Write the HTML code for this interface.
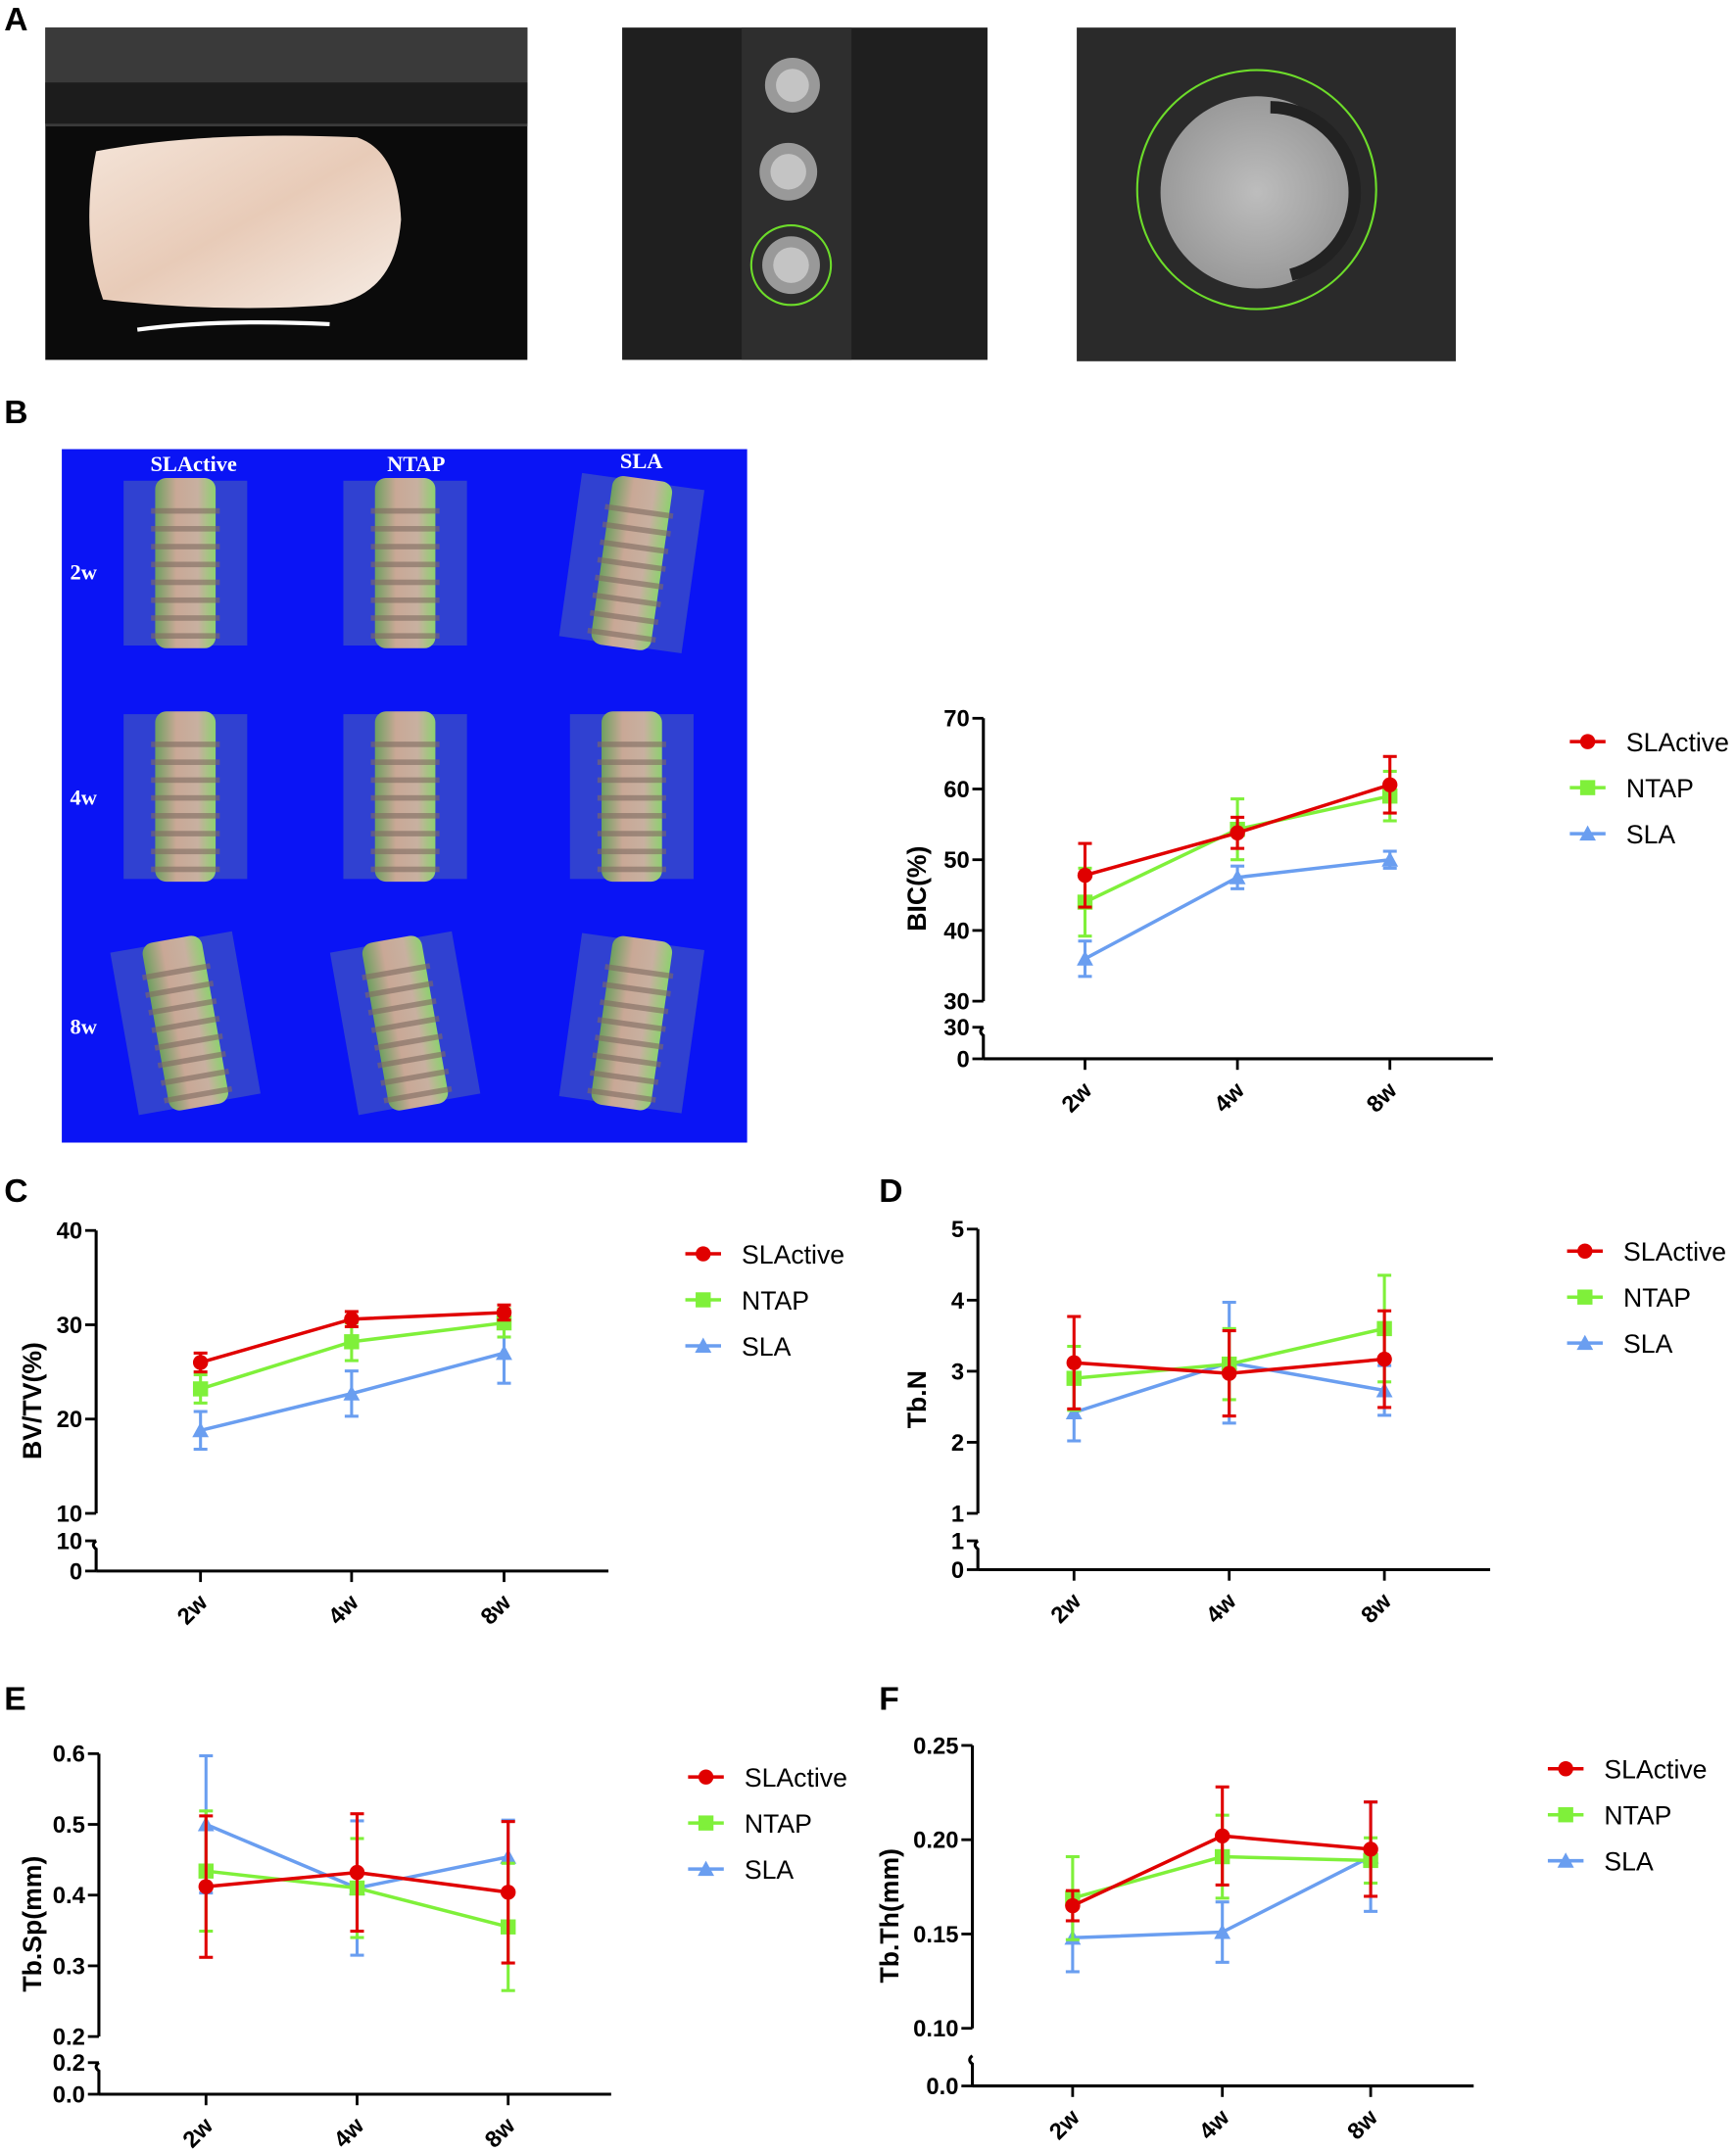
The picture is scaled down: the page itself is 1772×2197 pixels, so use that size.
<!DOCTYPE html>
<html><head><meta charset="utf-8"><style>
html,body{margin:0;padding:0;background:#fff}
svg{display:block}
text{font-family:"Liberation Sans",Arial,sans-serif}
</style></head><body>
<svg id="fig" width="1772" height="2197" viewBox="0 0 1264 1567" xmlns="http://www.w3.org/2000/svg">
<defs>
<linearGradient id="tissue" x1="0" y1="0" x2="1" y2="1"><stop offset="0" stop-color="#f4e4d8"/><stop offset="0.5" stop-color="#e8cbb8"/><stop offset="1" stop-color="#f6ece4"/></linearGradient>
<radialGradient id="ct" cx="0.5" cy="0.5" r="0.5"><stop offset="0" stop-color="#bdbdbd"/><stop offset="1" stop-color="#9a9a9a"/></radialGradient>
<linearGradient id="impl" x1="0" y1="0" x2="1" y2="0"><stop offset="0" stop-color="#6fa060"/><stop offset="0.35" stop-color="#c9a896"/><stop offset="0.7" stop-color="#c8b0a0"/><stop offset="1" stop-color="#8fd070"/></linearGradient>
</defs>
<g>
<text x="3" y="22" font-size="24" font-weight="bold">A</text>
<rect x="33" y="20" width="351" height="242" fill="#0b0b0b"/>
<rect x="33" y="20" width="351" height="72" fill="#3a3a3a"/>
<rect x="33" y="60" width="351" height="30" fill="#1c1c1c"/>
<path d="M70 110 Q150 95 260 100 Q290 110 292 160 Q288 215 240 222 Q160 228 75 218 Q58 170 70 110Z" fill="url(#tissue)"/>
<path d="M100 240 Q160 232 240 236" stroke="#fff" stroke-width="3" fill="none"/>
<rect x="453" y="20" width="266" height="242" fill="#1f1f1f"/>
<rect x="540" y="20" width="80" height="242" fill="#2e2e2e"/>
<circle cx="577" cy="62" r="20" fill="#999"/><circle cx="577" cy="62" r="12" fill="#c4c4c4"/>
<circle cx="574" cy="125" r="21" fill="#999"/><circle cx="574" cy="125" r="13" fill="#c4c4c4"/>
<circle cx="576" cy="193" r="21" fill="#999"/><circle cx="576" cy="193" r="13" fill="#c4c4c4"/>
<circle cx="576" cy="193" r="29" fill="none" stroke="#6ddc2a" stroke-width="1.5"/>
<rect x="784" y="20" width="276" height="243" fill="#2a2a2a"/>
<circle cx="915" cy="140" r="70" fill="url(#ct)"/>
<path d="M925 78 A62 62 0 0 1 940 200" stroke="#222" stroke-width="9" fill="none"/>
<circle cx="915" cy="138" r="87" fill="none" stroke="#6ddc2a" stroke-width="1.5"/>
</g>
<g>
<text x="3" y="308" font-size="24" font-weight="bold">B</text>
<rect x="45" y="327" width="499" height="505" fill="#0a14f5"/>
<g font-weight="bold" font-size="16" fill="#fff" style="font-family:'Liberation Serif',serif">
<text x="141" y="343" text-anchor="middle" style="font-family:'Liberation Serif',serif">SLActive</text>
<text x="303" y="343" text-anchor="middle" style="font-family:'Liberation Serif',serif">NTAP</text>
<text x="467" y="341" text-anchor="middle" style="font-family:'Liberation Serif',serif">SLA</text>
<text x="51" y="422" style="font-family:'Liberation Serif',serif">2w</text><text x="51" y="586" style="font-family:'Liberation Serif',serif">4w</text><text x="51" y="753" style="font-family:'Liberation Serif',serif">8w</text>
</g>
<g id="implants"></g>
</g>
<g id="charts"></g>
<g font-size="24" font-weight="bold">
<text x="3" y="875">C</text>
<text x="640" y="875">D</text>
<text x="3" y="1245">E</text>
<text x="640" y="1245">F</text>
</g>
</svg>
<script>
const categories = ["2w","4w","8w"];
const seriesNames = ["SLActive","NTAP","SLA"];
const bicMean = [[47.8,53.8,60.6],[44,54.3,59],[36,47.5,50]];
const bicErr = [[4.5,2.2,4],[4.8,4.3,3.5],[2.5,1.6,1.2]];
const bvMean = [[26,30.6,31.3],[23.2,28.2,30.2],[18.8,22.7,27]];
const bvErr = [[1,0.8,0.8],[1.5,2,1.5],[2,2.4,3.2]];
const tbnMean = [[3.12,2.97,3.17],[2.9,3.1,3.6],[2.42,3.12,2.73]];
const tbnErr = [[0.65,0.6,0.68],[0.45,0.5,0.75],[0.4,0.85,0.35]];
const tbspMean = [[0.412,0.432,0.404],[0.434,0.41,0.355],[0.5,0.41,0.454]];
const tbspErr = [[0.1,0.083,0.1],[0.085,0.07,0.09],[0.097,0.095,0.052]];
const tbthMean = [[0.165,0.202,0.195],[0.169,0.191,0.189],[0.148,0.151,0.191]];
const tbthErr = [[0.008,0.026,0.025],[0.022,0.022,0.012],[0.018,0.016,0.029]];
const bicTicks = [30,40,50,60,70];
const bvTicks = [10,20,30,40];
const tbnTicks = [1,2,3,4,5];
const tbspTicks = [0.2,0.3,0.4,0.5,0.6];
const tbthTicks = [0.10,0.15,0.20,0.25];

const NS="http://www.w3.org/2000/svg";
const colors=["#e00000","#7ff03a","#6a9ef0"];
function mk(tag,attrs,parent){const e=document.createElementNS(NS,tag);for(const k in attrs)e.setAttribute(k,attrs[k]);parent.appendChild(e);return e;}

const ig=document.getElementById('implants');
[135,295,460].forEach((cx,ci)=>{[410,580,745].forEach((cy,ri)=>{
 const g=mk('g',{transform:`rotate(${ci==2&&ri!=1?8:(ri==2?-10:0)} ${cx} ${cy})`},ig);
 
 
 mk('rect',{x:cx-45,y:cy-60,width:90,height:120,fill:'#3a4cc8',opacity:0.8},g);
 mk('rect',{x:cx-22,y:cy-62,width:44,height:124,rx:8,fill:'url(#impl)'},g);
 for(let k=0;k<8;k++)mk('rect',{x:cx-25,y:cy-40+k*13,width:50,height:4,fill:'#7f6a60',opacity:0.6},g);
});});

const cg=document.getElementById('charts');
function chart(o){
 const g=mk('g',{},cg);
 
 
 const t0=o.ticks[0],t1=o.ticks[o.ticks.length-1];
 const y=v=>o.yBot+(v-t0)/(t1-t0)*(o.yTop-o.yBot);
 const x=i=>o.xs[i];
 mk('line',{x1:o.ax,y1:o.yTop,x2:o.ax,y2:o.yBot,stroke:'#000','stroke-width':2.2},g);
 o.ticks.forEach(v=>{
  mk('line',{x1:o.ax-8,y1:y(v),x2:o.ax,y2:y(v),stroke:'#000','stroke-width':2},g);
  const t=mk('text',{x:o.ax-10,y:y(v)+6,'font-size':17,'font-weight':'bold','text-anchor':'end'},g);t.textContent=o.fmt(v);
 });
 const lg=mk('g',{},g);
 
 
 mk('path',{d:`M${o.ax} ${o.bTop} q-4 3 0 6 L${o.ax} ${o.zeroY}`,stroke:'#000','stroke-width':2.2,fill:'none'},lg);
 mk('line',{x1:o.ax-8,y1:o.zeroY,x2:o.ax,y2:o.zeroY,stroke:'#000','stroke-width':2},lg);
 let tz=mk('text',{x:o.ax-10,y:o.zeroY+6,'font-size':17,'font-weight':'bold','text-anchor':'end'},lg);tz.textContent=o.zeroLbl;
 if(o.repeat){mk('line',{x1:o.ax-8,y1:o.bTop,x2:o.ax,y2:o.bTop,stroke:'#000','stroke-width':2},lg);
  let tr=mk('text',{x:o.ax-10,y:o.bTop+6,'font-size':17,'font-weight':'bold','text-anchor':'end'},lg);tr.textContent=o.fmt(t0);}
 mk('line',{x1:o.ax,y1:o.zeroY,x2:o.axEnd,y2:o.zeroY,stroke:'#000','stroke-width':2.2},g);
 categories.forEach((c,i)=>{
  mk('line',{x1:x(i),y1:o.zeroY,x2:x(i),y2:o.zeroY+8,stroke:'#000','stroke-width':2},g);
  const t=mk('text',{x:x(i)+6,y:o.zeroY+24,'font-size':17,'font-weight':'bold','text-anchor':'end',transform:`rotate(-45 ${x(i)+6} ${o.zeroY+24})`},g);
  
  
  t.textContent=c;
 });
 const yt=mk('text',{x:o.titleX,y:(o.yTop+o.zeroY)/2,'font-size':19,'font-weight':'bold','text-anchor':'middle',transform:`rotate(-90 ${o.titleX} ${(o.yTop+o.zeroY)/2})`},g);
 
 
 yt.textContent=o.title;
 [2,1,0].forEach(s=>{
  const sg=mk('g',{},g);
  
  
  const col=colors[s];
  mk('polyline',{points:o.mean[s].map((v,i)=>x(i)+','+y(v)).join(' '),fill:'none',stroke:col,'stroke-width':2.5},sg);
  o.mean[s].forEach((v,i)=>{
   const e=o.err[s][i];
   mk('line',{x1:x(i),y1:y(v-e),x2:x(i),y2:y(v+e),stroke:col,'stroke-width':2.2},sg);
   mk('line',{x1:x(i)-5,y1:y(v-e),x2:x(i)+5,y2:y(v-e),stroke:col,'stroke-width':2.2},sg);
   mk('line',{x1:x(i)-5,y1:y(v+e),x2:x(i)+5,y2:y(v+e),stroke:col,'stroke-width':2.2},sg);
   let m;
   if(s==0)m=mk('circle',{cx:x(i),cy:y(v),r:5.5,fill:col},sg);
   else if(s==1)m=mk('rect',{x:x(i)-5.5,y:y(v)-5.5,width:11,height:11,fill:col},sg);
   else m=mk('polygon',{points:`${x(i)},${y(v)-6} ${x(i)-6},${y(v)+5} ${x(i)+6},${y(v)+5}`,fill:col},sg);
   
   
  });
 });
 seriesNames.forEach((n,s)=>{
  const ly=o.legY+s*33.5, lx=o.legX;
  const lgE=mk('g',{},g);
  
  
  mk('line',{x1:lx,y1:ly,x2:lx+26,y2:ly,stroke:colors[s],'stroke-width':2.5},lgE);
  const cx=lx+13;
  if(s==0)mk('circle',{cx:cx,cy:ly,r:5.5,fill:colors[s]},lgE);
  else if(s==1)mk('rect',{x:cx-5.5,y:ly-5.5,width:11,height:11,fill:colors[s]},lgE);
  else mk('polygon',{points:`${cx},${ly-6} ${cx-6},${ly+5} ${cx+6},${ly+5}`,fill:colors[s]},lgE);
  const t=mk('text',{x:lx+41,y:ly+7,'font-size':19},lgE);t.textContent=n;
 });
}
const i0=v=>String(v), f1=v=>v.toFixed(1), f2=v=>v.toFixed(2);
chart({name:'bic-chart',ax:716,yTop:523,yBot:729,bTop:748,zeroY:771,axEnd:1087,xs:[790,901,1012],ticks:bicTicks,fmt:i0,zeroLbl:'0',repeat:true,mean:bicMean,err:bicErr,title:'BIC(%)',titleX:674,legX:1143,legY:540});
chart({name:'bvtv-chart',ax:70,yTop:896,yBot:1102,bTop:1122,zeroY:1144,axEnd:443,xs:[146,256,367],ticks:bvTicks,fmt:i0,zeroLbl:'0',repeat:true,mean:bvMean,err:bvErr,title:'BV/TV(%)',titleX:30,legX:499,legY:913});
chart({name:'tbn-chart',ax:712,yTop:895,yBot:1102,bTop:1122,zeroY:1143,axEnd:1085,xs:[782,895,1008],ticks:tbnTicks,fmt:i0,zeroLbl:'0',repeat:true,mean:tbnMean,err:tbnErr,title:'Tb.N',titleX:674,legX:1141,legY:911});
chart({name:'tbsp-chart',ax:72,yTop:1277,yBot:1483,bTop:1502,zeroY:1525,axEnd:445,xs:[150,260,370],ticks:tbspTicks,fmt:f1,zeroLbl:'0.0',repeat:true,mean:tbspMean,err:tbspErr,title:'Tb.Sp(mm)',titleX:30,legX:501,legY:1294});
chart({name:'tbth-chart',ax:708,yTop:1271,yBot:1477,bTop:1497,zeroY:1519,axEnd:1073,xs:[781,890,998],ticks:tbthTicks,fmt:f2,zeroLbl:'0.0',repeat:false,mean:tbthMean,err:tbthErr,title:'Tb.Th(mm)',titleX:654,legX:1127,legY:1288});
</script>
</body></html>
